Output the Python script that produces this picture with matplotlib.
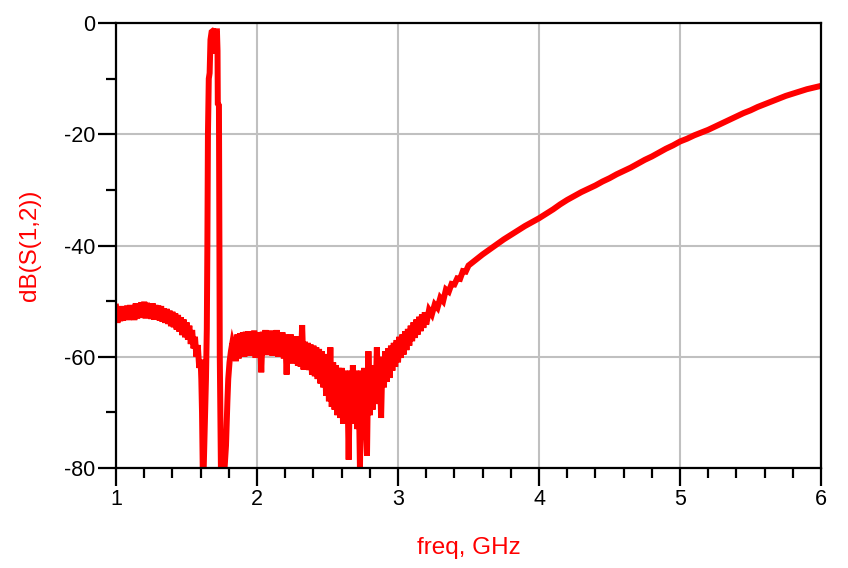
import numpy as np
import matplotlib
matplotlib.use("Agg")
import matplotlib.pyplot as plt
from matplotlib.ticker import MultipleLocator

plt.rcParams['font.family'] = ['Liberation Sans', 'DejaVu Sans']
plt.rcParams['axes.unicode_minus'] = False

# S(1,2), split into sweep segments
# 1.00 .. 1.60 GHz, 0.01 GHz steps (noisy stopband below the passband)
db_low = [-51.0, -53.9, -51.5, -53.6, -50.9, -53.5, -51.2, -53.3, -50.8, -53.4,
          -50.7, -53.2, -50.9, -53.4, -50.4, -53.1, -50.6, -53.0, -50.2, -52.9,
          -50.1, -53.1, -50.3, -52.8, -50.5, -53.2, -50.4, -53.3, -50.7, -53.1,
          -50.8, -53.5, -50.9, -53.7, -51.3, -53.9, -51.4, -54.1, -51.7, -54.5,
          -51.9, -54.7, -52.2, -55.1, -52.5, -55.5, -52.9, -56.1, -53.3, -56.5,
          -53.8, -56.9, -54.4, -57.7, -55.2, -58.5, -56.4, -60.0, -57.9, -62.0,
          -60.5]
f_low = np.linspace(1.00, 1.60, len(db_low))

# passband around 1.7 GHz
f_peak = [1.605, 1.610, 1.615, 1.622, 1.630, 1.638, 1.644, 1.648, 1.652, 1.658,
          1.664, 1.670, 1.678, 1.688, 1.698, 1.704, 1.710, 1.716, 1.720, 1.722,
          1.730, 1.736, 1.744, 1.770, 1.780, 1.790, 1.796, 1.805, 1.815, 1.825,
          1.835]
db_peak = [-64, -70, -80, -80, -72, -64, -55, -40, -20, -10,
           -9, -3, -1.6, -1.4, -1.5, -5.5, -1.5, -1.5, -5, -14.5,
           -14.8, -60, -80, -80, -76, -68, -64, -61, -59, -57.5,
           -58.5]

# 1.84 .. 3.20 GHz, 0.01 GHz steps (noisy upper stopband)
db_mid = [-56.5, -60.8, -56.0, -60.3, -55.8, -59.8, -55.6, -60.0, -55.5, -59.6,
          -55.4, -59.8, -55.8, -59.4, -55.3, -60.2, -55.6, -59.6, -55.9, -62.8,
          -55.5, -59.4, -55.2, -59.7, -55.6, -59.2, -55.3, -59.8, -55.5, -59.4,
          -55.2, -60.0, -55.8, -59.8, -55.6, -60.3, -56.0, -63.2, -56.2, -60.8,
          -56.0, -61.2, -56.5, -61.0, -56.3, -61.6, -57.0, -61.8, -54.3, -62.3,
          -57.3, -62.0, -57.5, -62.4, -57.8, -63.2, -58.0, -63.5, -58.3, -64.0,
          -58.6, -64.8, -59.0, -65.5, -59.5, -67.0, -60.0, -68.0, -58.3, -69.0,
          -61.0, -69.5, -61.5, -70.5, -62.0, -71.0, -62.0, -72.0, -62.5, -71.5,
          -63.0, -78.5, -62.5, -72.0, -61.5, -71.5, -62.5, -73.0, -63.0, -80.0,
          -62.5, -72.5, -62.0, -71.5, -77.8, -59.0, -70.5, -62.0, -69.5, -61.5,
          -68.5, -58.3, -68.0, -60.5, -71.0, -60.0, -65.5, -59.0, -64.5, -58.5,
          -63.8, -58.0, -62.5, -57.5, -61.8, -57.0, -61.0, -56.4, -60.2, -56.0,
          -59.6, -55.4, -58.8, -55.0, -58.0, -54.4, -57.2, -53.8, -56.6, -53.3,
          -56.0, -52.8, -55.4, -52.4, -54.8, -52.0, -54.2]
f_mid = np.linspace(1.84, 3.20, len(db_mid))

# rise towards 6 GHz, still slightly jittery up to ~3.5 GHz
f_rise = [3.22, 3.24, 3.26, 3.28, 3.30, 3.32, 3.34, 3.36, 3.38, 3.40,
          3.42, 3.44, 3.46, 3.48, 3.50, 3.55, 3.60, 3.65, 3.70, 3.75,
          3.80, 3.85, 3.90, 3.95, 4.00, 4.05, 4.10, 4.15, 4.20, 4.25,
          4.30, 4.35, 4.40, 4.45, 4.50, 4.55, 4.60, 4.65, 4.70, 4.75,
          4.80, 4.85, 4.90, 4.95, 5.00, 5.05, 5.10, 5.15, 5.20, 5.25,
          5.30, 5.35, 5.40, 5.45, 5.50, 5.55, 5.60, 5.65, 5.70, 5.75,
          5.80, 5.85, 5.90, 5.95, 6.00]
db_rise = [-51.6, -52.4, -50.6, -51.2, -49.4, -50.0, -47.9, -48.3, -46.9, -47.0,
           -45.9, -46.0, -44.6, -44.7, -43.6, -42.6, -41.6, -40.7, -39.8, -38.9,
           -38.1, -37.3, -36.5, -35.8, -35.1, -34.3, -33.5, -32.6, -31.8, -31.1,
           -30.4, -29.8, -29.2, -28.5, -27.9, -27.2, -26.6, -26.0, -25.3, -24.6,
           -24.0, -23.3, -22.6, -22.0, -21.3, -20.8, -20.2, -19.7, -19.2, -18.6,
           -18.0, -17.4, -16.8, -16.2, -15.7, -15.1, -14.6, -14.1, -13.6, -13.1,
           -12.7, -12.3, -11.9, -11.6, -11.3]

freq = np.concatenate([f_low, f_peak, f_mid, f_rise])
s12 = np.concatenate([db_low, db_peak, db_mid, db_rise])

fig = plt.figure(figsize=(8.48, 5.68), dpi=100)
ax = fig.add_axes([0.1368, 0.176, 0.8314, 0.7835])

ax.plot(freq, s12, color='#ff0000', lw=4.3, solid_joinstyle='miter')

ax.set_xlim(1, 6)
ax.set_ylim(-80, 0)
ax.set_xticks([1, 2, 3, 4, 5, 6])
ax.set_yticks([0, -20, -40, -60, -80])
ax.xaxis.set_minor_locator(MultipleLocator(0.2))
ax.yaxis.set_minor_locator(MultipleLocator(10))
ax.tick_params(which='major', direction='out', length=13, width=1.6,
               labelsize=15.5, pad=2, top=False, right=False)
ax.tick_params(which='minor', direction='out', length=7, width=1.6,
               top=False, right=False)
ax.grid(True, which='major', color='#c0c0c0', lw=1.5)
ax.set_axisbelow(True)
for sp in ax.spines.values():
    sp.set_linewidth(1.6)
    sp.set_color('black')

ax.set_xlabel('freq, GHz', color='#ff0000', fontsize=17.5)
ax.set_ylabel('dB(S(1,2))', color='#ff0000', fontsize=17.5)
ax.xaxis.set_label_coords(0.5, -0.18)
ax.xaxis.label.set_va('center')
ax.yaxis.set_label_coords(-0.122, 0.5)
ax.yaxis.label.set_va('center')

fig.savefig('out.png', dpi=100)
